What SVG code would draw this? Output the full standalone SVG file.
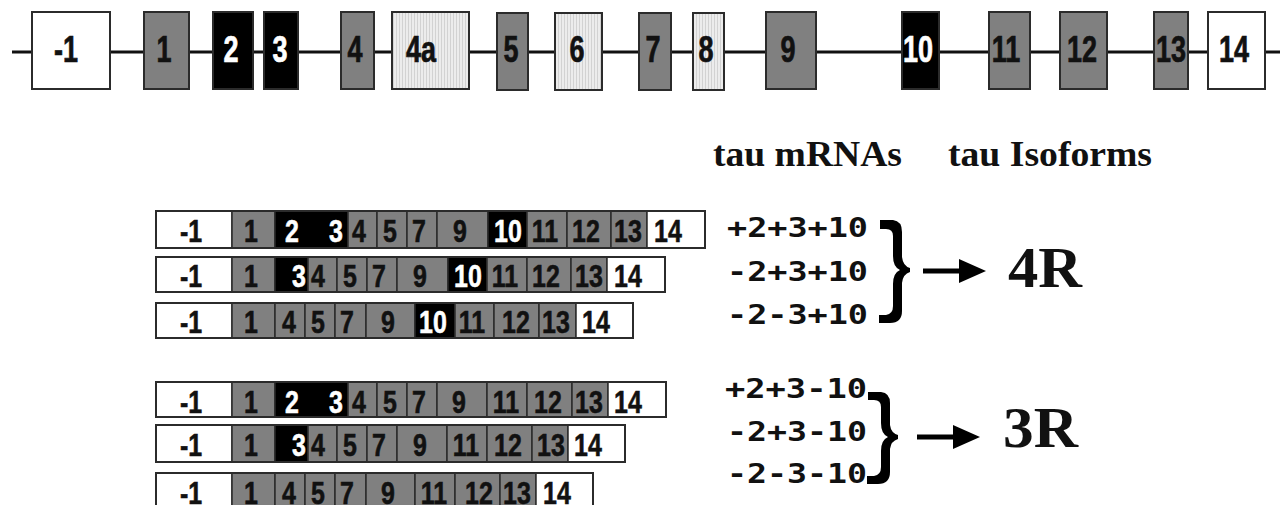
<svg xmlns="http://www.w3.org/2000/svg" width="1280" height="505" viewBox="0 0 1280 505">
<style>
.bg{fill:#fff}
.ex{stroke:#2b2b2b;stroke-width:2}
.sg{stroke:#2b2b2b;stroke-width:1.5}
.g{fill:#808080}.k{fill:#000}.w{fill:#fff}.l{fill:url(#stripes)}
.t{font-family:"Liberation Sans",Arial,sans-serif;font-weight:bold;font-size:36px;text-anchor:middle;fill:#111;stroke:#111;stroke-width:0.7}
.rt{font-family:"Liberation Sans",Arial,sans-serif;font-weight:bold;font-size:32px;text-anchor:middle;fill:#111;stroke:#111;stroke-width:0.6}
.wt{fill:#fff;stroke:#fff}
.hd{font-family:"Liberation Serif","Times New Roman",serif;font-weight:bold;font-size:35px;fill:#111}
.mono{font-family:"DejaVu Sans Mono","Liberation Mono",monospace;font-weight:bold;font-size:27px;fill:#111}
.iso{font-family:"Liberation Serif","Times New Roman",serif;font-weight:bold;font-size:58px;fill:#111}
.ln{stroke:#111;stroke-width:3;fill:none}
.arr{stroke:#000;stroke-width:5;fill:none}
.brace{fill:#000}
</style>
<defs>
<pattern id="stripes" width="3" height="10" patternUnits="userSpaceOnUse">
<rect width="3" height="10" fill="#ececec"/>
<rect width="1" height="10" fill="#d2d2d2"/>
</pattern>
<marker id="ah" markerUnits="userSpaceOnUse" markerWidth="27" markerHeight="24" refX="6" refY="12" orient="auto">
<path d="M0,0 L27,12 L0,24 Z" fill="#000"/>
</marker>
</defs>
<rect class="bg" width="1280" height="505"/>

<g id="connectors">
<line class="ln" x1="12" y1="52" x2="1280" y2="52"/>
<line class="arr" x1="923" y1="271" x2="965" y2="271" marker-end="url(#ah)"/>
<line class="arr" x1="917" y1="437" x2="959" y2="437" marker-end="url(#ah)"/>
<path class="brace" d="M 880 220 L 893 220 Q 902 221 902 232 L 902 257 Q 903 266 910 268 L 910 272 Q 903 274 902 283 L 902 311 Q 902 323 890 323 L 879 323 L 879 315 L 886 315 Q 893 314 893 306 L 893 284 Q 893 273 900 270 Q 893 267 893 256 L 893 236 Q 893 229 886 229 L 880 229 Z"/>
<path class="brace" d="M 868 392 L 881 392 Q 890 393 890 403 L 890 425 Q 891 433 898 435 L 898 439 Q 891 441 890 449 L 890 472 Q 890 484 878 484 L 867 484 L 867 476 L 874 476 Q 881 475 881 467 L 881 451 Q 881 440 888 437 Q 881 434 881 423 L 881 407 Q 881 400 874 400 L 868 400 Z"/>
</g>

<g id="gene">
<g id="ex-m1"><rect class="ex w" x="32" y="12" width="78" height="77"/><text class="t" transform="translate(66,62) scale(0.75,1)">-1</text></g>
<g id="ex-1"><rect class="ex g" x="144" y="12" width="45" height="77"/><text class="t" transform="translate(164,62) scale(0.75,1)">1</text></g>
<g id="ex-2"><rect class="ex k" x="213" y="12" width="40" height="77"/><text class="t wt" transform="translate(231,62) scale(0.75,1)">2</text></g>
<g id="ex-3"><rect class="ex k" x="264" y="12" width="34" height="77"/><text class="t wt" transform="translate(280,62) scale(0.75,1)">3</text></g>
<g id="ex-4"><rect class="ex g" x="341" y="12" width="33" height="77"/><text class="t" transform="translate(355,62) scale(0.75,1)">4</text></g>
<g id="ex-4a"><rect class="ex l" x="392" y="12" width="77" height="77"/><text class="t" transform="translate(421,62) scale(0.75,1)">4a</text></g>
<g id="ex-5"><rect class="ex g" x="497" y="13" width="31" height="77"/><text class="t" transform="translate(511,62) scale(0.75,1)">5</text></g>
<g id="ex-6"><rect class="ex l" x="555" y="13" width="47" height="77"/><text class="t" transform="translate(577,62) scale(0.75,1)">6</text></g>
<g id="ex-7"><rect class="ex g" x="639" y="13" width="32" height="77"/><text class="t" transform="translate(653,62) scale(0.75,1)">7</text></g>
<g id="ex-8"><rect class="ex l" x="693" y="13" width="31" height="77"/><text class="t" transform="translate(706,62) scale(0.75,1)">8</text></g>
<g id="ex-9"><rect class="ex g" x="766" y="12" width="50" height="77"/><text class="t" transform="translate(788,62) scale(0.75,1)">9</text></g>
<g id="ex-10"><rect class="ex k" x="902" y="12" width="37" height="77"/><text class="t wt" transform="translate(918,62) scale(0.75,1)">10</text></g>
<g id="ex-11"><rect class="ex g" x="989" y="12" width="41" height="77"/><text class="t" transform="translate(1006,62) scale(0.75,1)">11</text></g>
<g id="ex-12"><rect class="ex g" x="1060" y="12" width="47" height="77"/><text class="t" transform="translate(1082,62) scale(0.75,1)">12</text></g>
<g id="ex-13"><rect class="ex g" x="1154" y="12" width="34" height="77"/><text class="t" transform="translate(1171,62) scale(0.75,1)">13</text></g>
<g id="ex-14"><rect class="ex w" x="1208" y="12" width="57" height="77"/><text class="t" transform="translate(1234,62) scale(0.75,1)">14</text></g>
</g>

<g id="headers">
<text class="hd" x="713" y="166" textLength="189" lengthAdjust="spacingAndGlyphs">tau mRNAs</text>
<text class="hd" x="948" y="166" textLength="204" lengthAdjust="spacingAndGlyphs">tau Isoforms</text>
</g>

<g id="mrna-4R-1">
<rect class="sg w" x="156" y="211" width="76" height="37"/>
<rect class="sg g" x="232" y="211" width="43" height="37"/>
<rect class="sg k" x="275" y="211" width="73" height="37"/>
<rect class="sg g" x="348" y="211" width="29" height="37"/>
<rect class="sg g" x="377" y="211" width="30" height="37"/>
<rect class="sg g" x="407" y="211" width="30" height="37"/>
<rect class="sg g" x="437" y="211" width="51" height="37"/>
<rect class="sg k" x="488" y="211" width="39" height="37"/>
<rect class="sg g" x="527" y="211" width="40" height="37"/>
<rect class="sg g" x="567" y="211" width="44" height="37"/>
<rect class="sg g" x="611" y="211" width="36" height="37"/>
<rect class="sg w" x="647" y="211" width="58" height="37"/>
<rect class="ex" fill="none" x="156" y="211" width="549" height="37"/>
<text class="rt" transform="translate(191,242) scale(0.78,1)">-1</text>
<text class="rt" transform="translate(251,242) scale(0.78,1)">1</text>
<text class="rt wt" transform="translate(292,242) scale(0.78,1)">2</text>
<text class="rt wt" transform="translate(336,242) scale(0.78,1)">3</text>
<text class="rt" transform="translate(359,242) scale(0.78,1)">4</text>
<text class="rt" transform="translate(390,242) scale(0.78,1)">5</text>
<text class="rt" transform="translate(419,242) scale(0.78,1)">7</text>
<text class="rt" transform="translate(460,242) scale(0.78,1)">9</text>
<text class="rt wt" transform="translate(508,242) scale(0.78,1)">10</text>
<text class="rt" transform="translate(545,242) scale(0.78,1)">11</text>
<text class="rt" transform="translate(586,242) scale(0.78,1)">12</text>
<text class="rt" transform="translate(628,242) scale(0.78,1)">13</text>
<text class="rt" transform="translate(668,242) scale(0.78,1)">14</text>
</g>

<g id="mrna-4R-2">
<rect class="sg w" x="156" y="257" width="76" height="35"/>
<rect class="sg g" x="232" y="257" width="43" height="35"/>
<rect class="sg k" x="275" y="257" width="33" height="35"/>
<rect class="sg g" x="308" y="257" width="29" height="35"/>
<rect class="sg g" x="337" y="257" width="30" height="35"/>
<rect class="sg g" x="367" y="257" width="30" height="35"/>
<rect class="sg g" x="397" y="257" width="51" height="35"/>
<rect class="sg k" x="448" y="257" width="39" height="35"/>
<rect class="sg g" x="487" y="257" width="40" height="35"/>
<rect class="sg g" x="527" y="257" width="44" height="35"/>
<rect class="sg g" x="571" y="257" width="36" height="35"/>
<rect class="sg w" x="607" y="257" width="58" height="35"/>
<rect class="ex" fill="none" x="156" y="257" width="509" height="35"/>
<text class="rt" transform="translate(191,287) scale(0.78,1)">-1</text>
<text class="rt" transform="translate(251,287) scale(0.78,1)">1</text>
<text class="rt wt" transform="translate(299,287) scale(0.78,1)">3</text>
<text class="rt" transform="translate(318,287) scale(0.78,1)">4</text>
<text class="rt" transform="translate(350,287) scale(0.78,1)">5</text>
<text class="rt" transform="translate(379,287) scale(0.78,1)">7</text>
<text class="rt" transform="translate(420,287) scale(0.78,1)">9</text>
<text class="rt wt" transform="translate(468,287) scale(0.78,1)">10</text>
<text class="rt" transform="translate(505,287) scale(0.78,1)">11</text>
<text class="rt" transform="translate(546,287) scale(0.78,1)">12</text>
<text class="rt" transform="translate(589,287) scale(0.78,1)">13</text>
<text class="rt" transform="translate(628,287) scale(0.78,1)">14</text>
</g>

<g id="mrna-4R-3">
<rect class="sg w" x="156" y="303" width="76" height="35"/>
<rect class="sg g" x="232" y="303" width="43" height="35"/>
<rect class="sg g" x="275" y="303" width="30" height="35"/>
<rect class="sg g" x="305" y="303" width="30" height="35"/>
<rect class="sg g" x="335" y="303" width="31" height="35"/>
<rect class="sg g" x="366" y="303" width="49" height="35"/>
<rect class="sg k" x="415" y="303" width="40" height="35"/>
<rect class="sg g" x="455" y="303" width="39" height="35"/>
<rect class="sg g" x="494" y="303" width="45" height="35"/>
<rect class="sg g" x="539" y="303" width="37" height="35"/>
<rect class="sg w" x="576" y="303" width="57" height="35"/>
<rect class="ex" fill="none" x="156" y="303" width="477" height="35"/>
<text class="rt" transform="translate(191,333) scale(0.78,1)">-1</text>
<text class="rt" transform="translate(251,333) scale(0.78,1)">1</text>
<text class="rt" transform="translate(289,333) scale(0.78,1)">4</text>
<text class="rt" transform="translate(318,333) scale(0.78,1)">5</text>
<text class="rt" transform="translate(347,333) scale(0.78,1)">7</text>
<text class="rt" transform="translate(388,333) scale(0.78,1)">9</text>
<text class="rt wt" transform="translate(433,333) scale(0.78,1)">10</text>
<text class="rt" transform="translate(472,333) scale(0.78,1)">11</text>
<text class="rt" transform="translate(516,333) scale(0.78,1)">12</text>
<text class="rt" transform="translate(556,333) scale(0.78,1)">13</text>
<text class="rt" transform="translate(596,333) scale(0.78,1)">14</text>
</g>

<g id="mrna-3R-1">
<rect class="sg w" x="156" y="382" width="76" height="35"/>
<rect class="sg g" x="232" y="382" width="43" height="35"/>
<rect class="sg k" x="275" y="382" width="73" height="35"/>
<rect class="sg g" x="348" y="382" width="29" height="35"/>
<rect class="sg g" x="377" y="382" width="30" height="35"/>
<rect class="sg g" x="407" y="382" width="30" height="35"/>
<rect class="sg g" x="437" y="382" width="50" height="35"/>
<rect class="sg g" x="487" y="382" width="40" height="35"/>
<rect class="sg g" x="527" y="382" width="45" height="35"/>
<rect class="sg g" x="572" y="382" width="36" height="35"/>
<rect class="sg w" x="608" y="382" width="58" height="35"/>
<rect class="ex" fill="none" x="156" y="382" width="510" height="35"/>
<text class="rt" transform="translate(191,413) scale(0.78,1)">-1</text>
<text class="rt" transform="translate(251,413) scale(0.78,1)">1</text>
<text class="rt wt" transform="translate(292,413) scale(0.78,1)">2</text>
<text class="rt wt" transform="translate(336,413) scale(0.78,1)">3</text>
<text class="rt" transform="translate(359,413) scale(0.78,1)">4</text>
<text class="rt" transform="translate(390,413) scale(0.78,1)">5</text>
<text class="rt" transform="translate(419,413) scale(0.78,1)">7</text>
<text class="rt" transform="translate(459,413) scale(0.78,1)">9</text>
<text class="rt" transform="translate(506,413) scale(0.78,1)">11</text>
<text class="rt" transform="translate(548,413) scale(0.78,1)">12</text>
<text class="rt" transform="translate(589,413) scale(0.78,1)">13</text>
<text class="rt" transform="translate(628,413) scale(0.78,1)">14</text>
</g>

<g id="mrna-3R-2">
<rect class="sg w" x="156" y="425" width="76" height="37"/>
<rect class="sg g" x="232" y="425" width="43" height="37"/>
<rect class="sg k" x="275" y="425" width="33" height="37"/>
<rect class="sg g" x="308" y="425" width="29" height="37"/>
<rect class="sg g" x="337" y="425" width="30" height="37"/>
<rect class="sg g" x="367" y="425" width="30" height="37"/>
<rect class="sg g" x="397" y="425" width="50" height="37"/>
<rect class="sg g" x="447" y="425" width="40" height="37"/>
<rect class="sg g" x="487" y="425" width="45" height="37"/>
<rect class="sg g" x="532" y="425" width="36" height="37"/>
<rect class="sg w" x="568" y="425" width="57" height="37"/>
<rect class="ex" fill="none" x="156" y="425" width="469" height="37"/>
<text class="rt" transform="translate(191,456) scale(0.78,1)">-1</text>
<text class="rt" transform="translate(251,456) scale(0.78,1)">1</text>
<text class="rt wt" transform="translate(299,456) scale(0.78,1)">3</text>
<text class="rt" transform="translate(318,456) scale(0.78,1)">4</text>
<text class="rt" transform="translate(350,456) scale(0.78,1)">5</text>
<text class="rt" transform="translate(379,456) scale(0.78,1)">7</text>
<text class="rt" transform="translate(420,456) scale(0.78,1)">9</text>
<text class="rt" transform="translate(466,456) scale(0.78,1)">11</text>
<text class="rt" transform="translate(508,456) scale(0.78,1)">12</text>
<text class="rt" transform="translate(551,456) scale(0.78,1)">13</text>
<text class="rt" transform="translate(588,456) scale(0.78,1)">14</text>
</g>

<g id="mrna-3R-3">
<rect class="sg w" x="156" y="473" width="76" height="40"/>
<rect class="sg g" x="232" y="473" width="43" height="40"/>
<rect class="sg g" x="275" y="473" width="30" height="40"/>
<rect class="sg g" x="305" y="473" width="30" height="40"/>
<rect class="sg g" x="335" y="473" width="31" height="40"/>
<rect class="sg g" x="366" y="473" width="49" height="40"/>
<rect class="sg g" x="415" y="473" width="40" height="40"/>
<rect class="sg g" x="455" y="473" width="45" height="40"/>
<rect class="sg g" x="500" y="473" width="36" height="40"/>
<rect class="sg w" x="536" y="473" width="57" height="40"/>
<rect class="ex" fill="none" x="156" y="473" width="437" height="40"/>
<text class="rt" transform="translate(191,504) scale(0.78,1)">-1</text>
<text class="rt" transform="translate(251,504) scale(0.78,1)">1</text>
<text class="rt" transform="translate(289,504) scale(0.78,1)">4</text>
<text class="rt" transform="translate(318,504) scale(0.78,1)">5</text>
<text class="rt" transform="translate(347,504) scale(0.78,1)">7</text>
<text class="rt" transform="translate(388,504) scale(0.78,1)">9</text>
<text class="rt" transform="translate(434,504) scale(0.78,1)">11</text>
<text class="rt" transform="translate(479,504) scale(0.78,1)">12</text>
<text class="rt" transform="translate(517,504) scale(0.78,1)">13</text>
<text class="rt" transform="translate(557,504) scale(0.78,1)">14</text>
</g>

<g id="labels-4R">
<text class="mono" x="727" y="237" textLength="141" lengthAdjust="spacingAndGlyphs">+2+3+10</text>
<text class="mono" x="727" y="281" textLength="141" lengthAdjust="spacingAndGlyphs">-2+3+10</text>
<text class="mono" x="727" y="324" textLength="141" lengthAdjust="spacingAndGlyphs">-2-3+10</text>
</g>
<g id="iso-4R"><text class="iso" x="1008" y="287" textLength="74" lengthAdjust="spacingAndGlyphs">4R</text></g>

<g id="labels-3R">
<text class="mono" x="725" y="398" textLength="142" lengthAdjust="spacingAndGlyphs">+2+3-10</text>
<text class="mono" x="727" y="441" textLength="140" lengthAdjust="spacingAndGlyphs">-2+3-10</text>
<text class="mono" x="727" y="483" textLength="140" lengthAdjust="spacingAndGlyphs">-2-3-10</text>
</g>
<g id="iso-3R"><text class="iso" x="1003" y="447" textLength="75" lengthAdjust="spacingAndGlyphs">3R</text></g>
</svg>
